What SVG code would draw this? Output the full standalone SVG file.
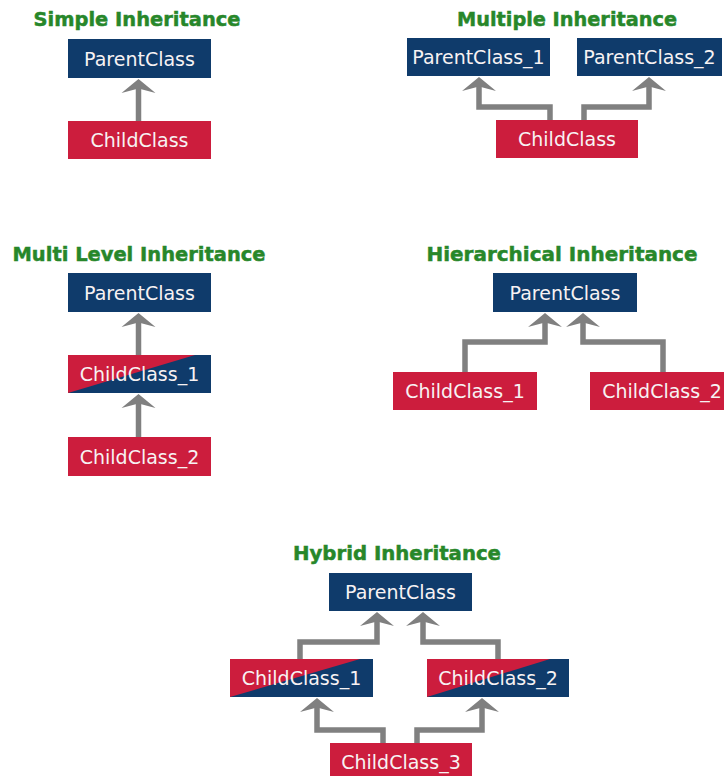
<svg xmlns="http://www.w3.org/2000/svg" xmlns:xlink="http://www.w3.org/1999/xlink" width="724" height="776" viewBox="0 0 724 776">
<style>
.title{font-family:"DejaVu Sans",sans-serif;font-weight:bold;font-size:20px;fill:#27872a;stroke:#27872a;stroke-width:0.5;text-anchor:middle}
.lbl{font-family:"DejaVu Sans",sans-serif;font-size:19px;fill:#f7f2f3;text-anchor:middle}
.navy{fill:#0f3b6b}
.red{fill:#cc1d3d}
.conn{fill:none;stroke:#808080;stroke-width:5.5;stroke-linejoin:miter}
.head{fill:#808080}
</style>
<defs>
<path id="ah" d="M0,0 L17,14 L0,9.5 L-17,14 Z"/>
</defs>
<rect width="724" height="776" fill="#ffffff"/>

<!-- titles -->
<g id="titles">
<text class="title" x="137" y="26" textLength="207" lengthAdjust="spacingAndGlyphs">Simple Inheritance</text>
<text class="title" x="567" y="26" textLength="220" lengthAdjust="spacingAndGlyphs">Multiple Inheritance</text>
<text class="title" x="139" y="261" textLength="253" lengthAdjust="spacingAndGlyphs">Multi Level Inheritance</text>
<text class="title" x="562" y="261" textLength="271" lengthAdjust="spacingAndGlyphs">Hierarchical Inheritance</text>
<text class="title" x="397" y="560" textLength="208" lengthAdjust="spacingAndGlyphs">Hybrid Inheritance</text>
</g>

<!-- connectors -->
<g id="connectors">
<path class="conn" d="M138.5,121 V86"/>
<use href="#ah" class="head" x="138.5" y="79"/>

<path class="conn" d="M550,120 V107 H479 V86"/>
<use href="#ah" class="head" x="479" y="77"/>
<path class="conn" d="M584,120 V107 H649 V86"/>
<use href="#ah" class="head" x="649" y="77"/>

<path class="conn" d="M138.5,355 V320"/>
<use href="#ah" class="head" x="138.5" y="313"/>
<path class="conn" d="M138.5,437 V401"/>
<use href="#ah" class="head" x="138.5" y="394"/>

<path class="conn" d="M465,372 V342 H545 V320"/>
<use href="#ah" class="head" x="545" y="313"/>
<path class="conn" d="M663,372 V342 H583 V320"/>
<use href="#ah" class="head" x="583" y="313"/>

<path class="conn" d="M300,659 V642 H377 V619"/>
<use href="#ah" class="head" x="377" y="612"/>
<path class="conn" d="M498,659 V642 H423 V619"/>
<use href="#ah" class="head" x="423" y="612"/>

<path class="conn" d="M383,743 V730 H317 V705"/>
<use href="#ah" class="head" x="317" y="698"/>
<path class="conn" d="M417,743 V730 H482 V705"/>
<use href="#ah" class="head" x="482" y="698"/>
</g>

<!-- Simple -->
<g id="simple-parent">
<rect class="navy" x="68" y="39" width="143" height="39"/>
<text class="lbl" x="139.5" y="65.5">ParentClass</text>
</g>
<g id="simple-child">
<rect class="red" x="68" y="121" width="143" height="38"/>
<text class="lbl" x="139.5" y="147">ChildClass</text>
</g>

<!-- Multiple -->
<g id="multiple-parent1">
<rect class="navy" x="407" y="38" width="143" height="38"/>
<text class="lbl" x="478.5" y="64">ParentClass_1</text>
</g>
<g id="multiple-parent2">
<rect class="navy" x="577" y="38" width="145" height="38"/>
<text class="lbl" x="649.5" y="64">ParentClass_2</text>
</g>
<g id="multiple-child">
<rect class="red" x="496" y="120" width="142" height="38"/>
<text class="lbl" x="567" y="146">ChildClass</text>
</g>

<!-- Multi level -->
<g id="multilevel-parent">
<rect class="navy" x="68" y="273" width="143" height="39"/>
<text class="lbl" x="139.5" y="299.5">ParentClass</text>
</g>
<g id="multilevel-child1">
<rect class="red" x="68" y="355" width="143" height="38"/>
<polygon class="navy" points="68,393 211,393 211,355 195,355"/>
<text class="lbl" x="139.5" y="381">ChildClass_1</text>
</g>
<g id="multilevel-child2">
<rect class="red" x="68" y="437" width="143" height="39"/>
<text class="lbl" x="139.5" y="463.5">ChildClass_2</text>
</g>

<!-- Hierarchical -->
<g id="hier-parent">
<rect class="navy" x="493" y="273" width="144" height="39"/>
<text class="lbl" x="565" y="299.5">ParentClass</text>
</g>
<g id="hier-child1">
<rect class="red" x="393" y="372" width="144" height="38"/>
<text class="lbl" x="465" y="398">ChildClass_1</text>
</g>
<g id="hier-child2">
<rect class="red" x="590" y="372" width="144" height="38"/>
<text class="lbl" x="662" y="398">ChildClass_2</text>
</g>

<!-- Hybrid -->
<g id="hybrid-parent">
<rect class="navy" x="329" y="573" width="143" height="38"/>
<text class="lbl" x="400.5" y="599">ParentClass</text>
</g>
<g id="hybrid-child1">
<rect class="red" x="230" y="659" width="143" height="38"/>
<polygon class="navy" points="230,697 373,697 373,659 360,659"/>
<text class="lbl" x="301.5" y="685">ChildClass_1</text>
</g>
<g id="hybrid-child2">
<rect class="red" x="427" y="659" width="142" height="38"/>
<polygon class="navy" points="427,697 569,697 569,659 550,659"/>
<text class="lbl" x="498" y="685">ChildClass_2</text>
</g>
<g id="hybrid-child3">
<rect class="red" x="330" y="743" width="142" height="40"/>
<text class="lbl" x="401" y="769">ChildClass_3</text>
</g>
</svg>
